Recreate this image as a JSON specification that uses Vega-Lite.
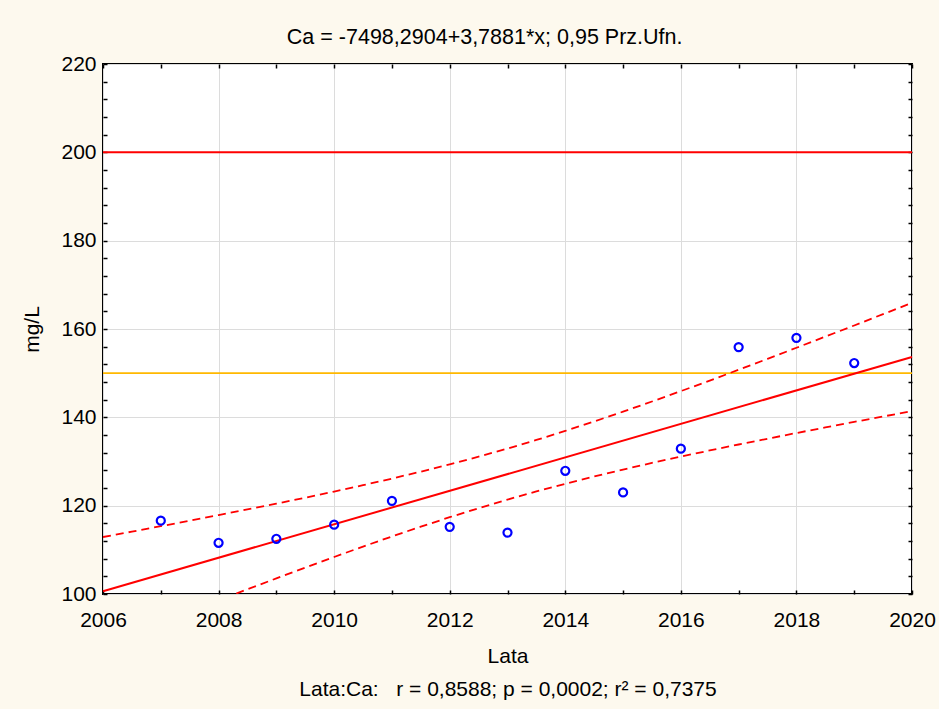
{
  "$schema": "https://vega.github.io/schema/vega-lite/v6.json",
  "width": 809,
  "height": 530,
  "autosize": {"type": "none"},
  "padding": {"left": 103, "top": 64, "right": 27, "bottom": 115},
  "background": "#fdf9ee",
  "config": {
    "view": {"fill": "white", "stroke": "black", "strokeWidth": 2},
    "font": "Liberation Sans",
    "axis": {
      "labelFont": "Liberation Sans",
      "labelFontSize": 21,
      "labelColor": "black",
      "titleFont": "Liberation Sans",
      "titleFontSize": 21,
      "titleFontWeight": "normal",
      "titleColor": "black",
      "domain": false,
      "tickColor": "black",
      "tickWidth": 1.5,
      "tickSize": -4,
      "gridColor": "#dcdcdc",
      "gridWidth": 1,
      "labelFlush": false,
      "labelOverlap": false
    },
    "title": {"font": "Liberation Sans", "fontSize": 21.5, "fontWeight": "normal", "color": "black"}
  },
  "title": {"text": "Ca = -7498,2904+3,7881*x; 0,95 Prz.Ufn.", "anchor": "middle", "frame": "bounds", "offset": 5, "dx": 6},
  "datasets": {
    "points": [
      {"Lata": 2007, "Ca": 116.6},
      {"Lata": 2008, "Ca": 111.6},
      {"Lata": 2009, "Ca": 112.5},
      {"Lata": 2010, "Ca": 115.7},
      {"Lata": 2011, "Ca": 121.1},
      {"Lata": 2012, "Ca": 115.2},
      {"Lata": 2013, "Ca": 113.9},
      {"Lata": 2014, "Ca": 127.9},
      {"Lata": 2015, "Ca": 123.0},
      {"Lata": 2016, "Ca": 132.9},
      {"Lata": 2017, "Ca": 155.9},
      {"Lata": 2018, "Ca": 158.0},
      {"Lata": 2019, "Ca": 152.3}
    ],
    "fit": [
      {"Lata": 2006, "Ca": 100.638},
      {"Lata": 2020, "Ca": 153.672}
    ],
    "band": [
      {"Lata": 2006.0, "upper": 112.90, "lower": 88.38},
      {"Lata": 2006.5, "upper": 114.12, "lower": 90.94},
      {"Lata": 2007.0, "upper": 115.35, "lower": 93.51},
      {"Lata": 2007.5, "upper": 116.60, "lower": 96.04},
      {"Lata": 2008.0, "upper": 117.86, "lower": 98.56},
      {"Lata": 2008.5, "upper": 119.15, "lower": 101.07},
      {"Lata": 2009.0, "upper": 120.46, "lower": 103.54},
      {"Lata": 2009.5, "upper": 121.81, "lower": 105.99},
      {"Lata": 2010.0, "upper": 123.20, "lower": 108.38},
      {"Lata": 2010.5, "upper": 124.64, "lower": 110.74},
      {"Lata": 2011.0, "upper": 126.13, "lower": 113.03},
      {"Lata": 2011.5, "upper": 127.70, "lower": 115.24},
      {"Lata": 2012.0, "upper": 129.35, "lower": 117.39},
      {"Lata": 2012.5, "upper": 131.09, "lower": 119.43},
      {"Lata": 2013.0, "upper": 132.93, "lower": 121.37},
      {"Lata": 2013.5, "upper": 134.88, "lower": 123.22},
      {"Lata": 2014.0, "upper": 136.92, "lower": 124.96},
      {"Lata": 2014.5, "upper": 139.07, "lower": 126.61},
      {"Lata": 2015.0, "upper": 141.28, "lower": 128.18},
      {"Lata": 2015.5, "upper": 143.58, "lower": 129.68},
      {"Lata": 2016.0, "upper": 145.93, "lower": 131.11},
      {"Lata": 2016.5, "upper": 148.32, "lower": 132.50},
      {"Lata": 2017.0, "upper": 150.77, "lower": 133.85},
      {"Lata": 2017.5, "upper": 153.24, "lower": 135.16},
      {"Lata": 2018.0, "upper": 155.75, "lower": 136.45},
      {"Lata": 2018.5, "upper": 158.27, "lower": 137.71},
      {"Lata": 2019.0, "upper": 160.80, "lower": 138.96},
      {"Lata": 2019.5, "upper": 163.37, "lower": 140.19},
      {"Lata": 2020.0, "upper": 165.93, "lower": 141.41}
    ],
    "limits": [
      {"limit": 200, "kind": "red"},
      {"limit": 150, "kind": "orange"}
    ]
  },
  "resolve": {"axis": {"x": "independent", "y": "independent"}},
  "layer": [
    {
      "data": {"name": "points"},
      "mark": {"type": "point", "opacity": 0},
      "encoding": {
        "x": {
          "field": "Lata", "type": "quantitative",
          "scale": {"domain": [2006, 2020], "nice": false, "zero": false},
          "axis": {
            "values": [2006, 2007, 2008, 2009, 2010, 2011, 2012, 2013, 2014, 2015, 2016, 2017, 2018, 2019, 2020],
            "labelExpr": "datum.value % 2 === 0 ? format(datum.value, 'd') : ''",
            "labelPadding": 19,
            "gridOpacity": {"condition": {"test": "datum.value % 2 === 0", "value": 1}, "value": 0},
            "title": ["Lata", "Lata:Ca:\u00a0\u00a0\u00a0r = 0,8588; p = 0,0002; r² = 0,7375"],
            "titleLineHeight": 33,
            "titlePadding": 15
          }
        },
        "y": {
          "field": "Ca", "type": "quantitative",
          "scale": {"domain": [100, 220], "nice": false, "zero": false},
          "axis": {
            "values": [100, 104, 108, 112, 116, 120, 124, 128, 132, 136, 140, 144, 148, 152, 156, 160, 164, 168, 172, 176, 180, 184, 188, 192, 196, 200, 204, 208, 212, 216, 220],
            "labelExpr": "datum.value % 20 === 0 ? format(datum.value, 'd') : ''",
            "labelPadding": 11,
            "gridOpacity": {"condition": {"test": "datum.value % 20 === 0", "value": 1}, "value": 0},
            "title": "mg/L",
            "titlePadding": 18
          }
        }
      }
    },
    {
      "data": {"name": "limits"},
      "mark": {"type": "rule"},
      "encoding": {
        "y": {"field": "limit", "type": "quantitative", "axis": null},
        "color": {"field": "kind", "type": "nominal", "scale": {"domain": ["red", "orange"], "range": ["#ff0000", "#ffb800"]}, "legend": null},
        "strokeWidth": {"field": "kind", "type": "nominal", "scale": {"domain": ["red", "orange"], "range": [2, 1.6]}, "legend": null}
      }
    },
    {
      "data": {"name": "band"},
      "mark": {"type": "line", "color": "#ff0000", "strokeWidth": 1.8, "strokeDash": [8, 5], "clip": true},
      "encoding": {
        "x": {"field": "Lata", "type": "quantitative", "axis": null},
        "y": {"field": "upper", "type": "quantitative", "axis": null}
      }
    },
    {
      "data": {"name": "band"},
      "mark": {"type": "line", "color": "#ff0000", "strokeWidth": 1.8, "strokeDash": [8, 5], "clip": true},
      "encoding": {
        "x": {"field": "Lata", "type": "quantitative", "axis": null},
        "y": {"field": "lower", "type": "quantitative", "axis": null}
      }
    },
    {
      "data": {"name": "fit"},
      "mark": {"type": "line", "color": "#ff0000", "strokeWidth": 2},
      "encoding": {
        "x": {
          "field": "Lata", "type": "quantitative",
          "axis": {
            "orient": "top",
            "values": [2006, 2007, 2008, 2009, 2010, 2011, 2012, 2013, 2014, 2015, 2016, 2017, 2018, 2019, 2020],
            "labels": false, "grid": false, "title": null
          }
        },
        "y": {
          "field": "Ca", "type": "quantitative",
          "axis": {
            "orient": "right",
            "values": [100, 104, 108, 112, 116, 120, 124, 128, 132, 136, 140, 144, 148, 152, 156, 160, 164, 168, 172, 176, 180, 184, 188, 192, 196, 200, 204, 208, 212, 216, 220],
            "labels": false, "grid": false, "title": null
          }
        }
      }
    },
    {
      "data": {"name": "points"},
      "mark": {"type": "point", "shape": "circle", "filled": false, "color": "#0000ff", "opacity": 1, "strokeWidth": 2.2, "size": 65},
      "encoding": {
        "x": {"field": "Lata", "type": "quantitative", "axis": null},
        "y": {"field": "Ca", "type": "quantitative", "axis": null}
      }
    }
  ]
}
